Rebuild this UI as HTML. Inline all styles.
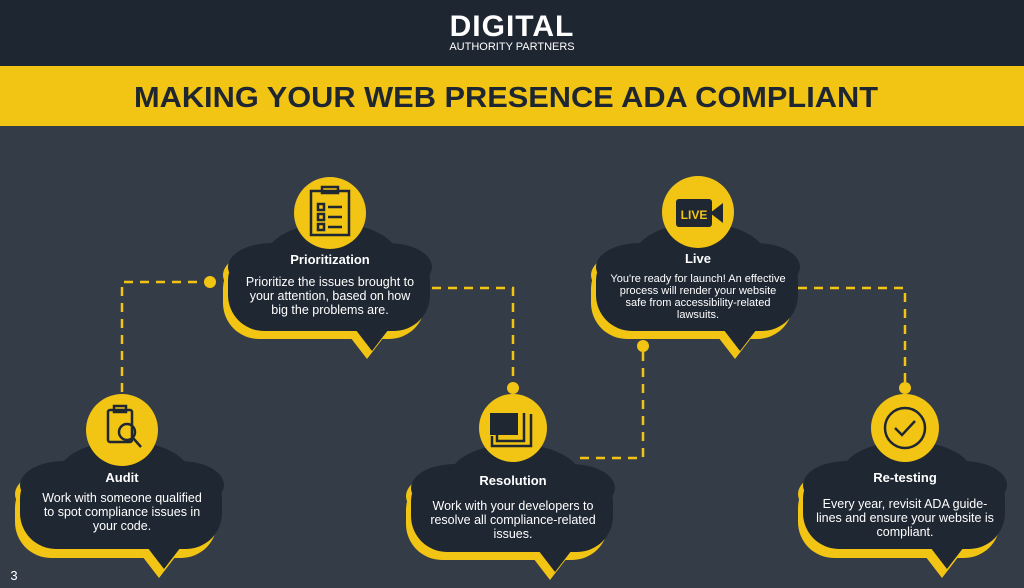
<!DOCTYPE html>
<html><head><meta charset="utf-8"><style>
html,body{margin:0;padding:0;width:1024px;height:588px;overflow:hidden;background:#343d47;}
svg{display:block}
text{font-family:"Liberation Sans",sans-serif;}
</style></head><body>
<svg width="1024" height="588" viewBox="0 0 1024 588" xmlns="http://www.w3.org/2000/svg">
<defs>
<g id="cl">
  <ellipse cx="2" cy="44" rx="66" ry="34"/>
  <rect x="-102" y="32" width="202" height="86" rx="36"/>
  <ellipse cx="-58" cy="54" rx="44" ry="24"/>
  <ellipse cx="58" cy="54" rx="44" ry="24"/>
  <polygon points="22,112 62,112 42,138"/>
</g>
</defs>
<rect x="0" y="0" width="1024" height="588" fill="#343d47"/>
<!-- header -->
<rect x="0" y="0" width="1024" height="66" fill="#1e2632"/>
<text x="512" y="36" text-anchor="middle" font-size="30" font-weight="bold" fill="#fff" letter-spacing="1">DIGITAL</text>
<text x="512" y="50" text-anchor="middle" font-size="11" fill="#fff">AUTHORITY PARTNERS</text>
<rect x="0" y="66" width="1024" height="60" fill="#f2c414"/>
<text x="506" y="107" text-anchor="middle" font-size="29" font-weight="bold" fill="#1e2632" textLength="744" lengthAdjust="spacingAndGlyphs">MAKING YOUR WEB PRESENCE ADA COMPLIANT</text>

<!-- connectors -->
<g stroke="#f2c414" stroke-width="2.5" fill="none" stroke-dasharray="9,7">
<path d="M122,392 V282 H210"/>
<path d="M432,288 H513 V388"/>
<path d="M580,458 H643 V346"/>
<path d="M798,288 H905 V388"/>
</g>
<g fill="#f2c414">
<circle cx="210" cy="282" r="6"/><circle cx="513" cy="388" r="6"/>
<circle cx="643" cy="346" r="6"/><circle cx="905" cy="388" r="6"/>
</g>

<!-- clouds: shadow then body -->
<g fill="#f2c414">
<use href="#cl" transform="translate(117,440)"/>
<use href="#cl" transform="translate(325,221)"/>
<use href="#cl" transform="translate(508,442)"/>
<use href="#cl" transform="translate(693,221)"/>
<use href="#cl" transform="translate(900,440)"/>
</g>
<g fill="#1f2733">
<use href="#cl" transform="translate(122,431)"/>
<use href="#cl" transform="translate(330,213)"/>
<use href="#cl" transform="translate(513,434)"/>
<use href="#cl" transform="translate(698,213)"/>
<use href="#cl" transform="translate(905,431)"/>
</g>
<g fill="#f2c414">
<circle cx="122" cy="430" r="36"/><circle cx="330" cy="213" r="36"/>
<circle cx="513" cy="428" r="34"/><circle cx="698" cy="212" r="36"/>
<circle cx="905" cy="428" r="34"/>
</g>
<!-- icons -->
<g stroke="#1f2733" stroke-width="2.5" fill="none">
<rect x="108" y="410" width="24" height="32" rx="2"/><rect x="114" y="406" width="12" height="6"/>
<circle cx="127" cy="432" r="8"/><line x1="133" y1="438" x2="141" y2="447"/>
<rect x="311" y="191" width="38" height="44"/><rect x="322" y="187" width="16" height="6"/>
<rect x="318" y="204" width="6" height="6"/><rect x="318" y="214" width="6" height="6"/><rect x="318" y="224" width="6" height="6"/>
<line x1="328" y1="207" x2="342" y2="207"/><line x1="328" y1="217" x2="342" y2="217"/><line x1="328" y1="227" x2="342" y2="227"/>
<path d="M492,436 V446 H531 V414"/><path d="M497,432 V441 H524 V413"/>
<circle cx="905" cy="428" r="20"/><path d="M895,428 L902,435 L915,421"/>
</g>
<rect x="490" y="413" width="28" height="22" fill="#1f2733"/>
<rect x="676" y="199" width="36" height="28" rx="3" fill="#1f2733"/>
<polygon points="710,213 723,203 723,223" fill="#1f2733"/>
<text x="694" y="219" text-anchor="middle" font-size="12" font-weight="bold" fill="#f2c414">LIVE</text>

<!-- text -->
<g fill="#fff" text-anchor="middle" font-size="12.5">
<text x="122" y="482" font-size="13" font-weight="bold">Audit</text>
<text x="122" y="502">Work with someone qualified</text>
<text x="122" y="516">to spot compliance issues in</text>
<text x="122" y="530">your code.</text>
<text x="330" y="264" font-size="13" font-weight="bold">Prioritization</text>
<text x="330" y="286">Prioritize the issues brought to</text>
<text x="330" y="300">your attention, based on how</text>
<text x="330" y="314">big the problems are.</text>
<text x="698" y="263" font-size="13" font-weight="bold">Live</text>
<text x="698" y="282" font-size="11">You're ready for launch! An effective</text>
<text x="698" y="294" font-size="11">process will render your website</text>
<text x="698" y="306" font-size="11">safe from accessibility-related</text>
<text x="698" y="318" font-size="11">lawsuits.</text>
<text x="513" y="485" font-size="13" font-weight="bold">Resolution</text>
<text x="513" y="510">Work with your developers to</text>
<text x="513" y="524">resolve all compliance-related</text>
<text x="513" y="538">issues.</text>
<text x="905" y="482" font-size="13" font-weight="bold">Re-testing</text>
<text x="905" y="508">Every year, revisit ADA guide-</text>
<text x="905" y="522">lines and ensure your website is</text>
<text x="905" y="536">compliant.</text>
</g>
<text x="14" y="580" font-size="13" fill="#fff" text-anchor="middle">3</text>
</svg>
</body></html>
